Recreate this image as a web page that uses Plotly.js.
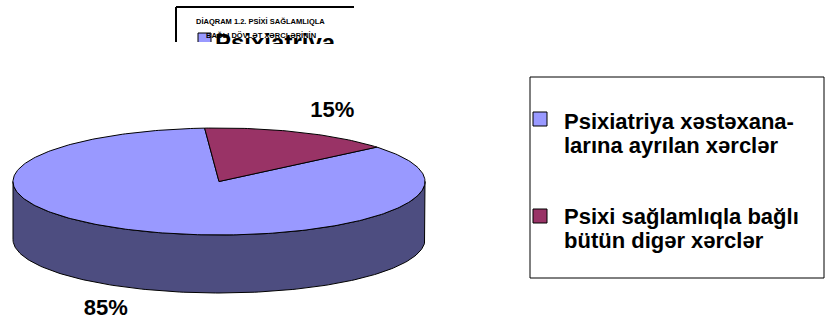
<!DOCTYPE html>
<html><head><meta charset="utf-8">
<script src="https://cdn.plot.ly/plotly-3.0.1.min.js"></script>
<style>html,body{margin:0;padding:0;background:#fff}#chart{width:825px;height:320px}</style>
</head><body><div id="chart"></div>
<script>
// ---- data ----
const categories = ['Psixiatriya xəstəxana-<br>larına ayrılan xərclər', 'Psixi sağlamlıqla bağlı<br>bütün digər xərclər'];
const values = [85, 15];
const topColors = ['#9999FF', '#993366'];
const sideColors = ['#4D4D80', '#4D1A33'];
const titleLines = ['DİAQRAM 1.2. PSİXİ SAĞLAMLIQLA', 'BAĞLI DÖVLƏT XƏRCLƏRİNİN'];
const overlapText = 'Psixiatriya';

// ---- geometry (pixel units on hidden axes) ----
const cx = 219, cy = 181.5, rx = 206, ry = 53.5, depth = 58, startDeg = 40;
const rad = d => d * Math.PI / 180;
const px = t => cx + rx * Math.cos(rad(t));
const py = (t, off) => cy - ry * Math.sin(rad(t)) + (off || 0);
const FONT = 'Liberation Sans, Arial, sans-serif';

const total = values.reduce((a, b) => a + b, 0);
const slices = [];
let cum = 0;
values.forEach((v, i) => {
  const a0 = startDeg - cum / total * 360;
  const a1 = a0 - v / total * 360;
  cum += v;
  slices.push({a0, a1, i, v});
});

const traces = [];
// side walls (front half only)
slices.forEach(s => {
  const lo = s.a1, hi = s.a0;
  for (let k = -3; k <= 3; k++) {
    const f0 = 180 + 360 * k, f1 = 360 + 360 * k;
    const st = Math.max(lo, f0), en = Math.min(hi, f1);
    if (en - st <= 0) continue;
    const xs = [], ys = [];
    const n = Math.max(2, Math.ceil(en - st));
    for (let j = 0; j <= n; j++) { const t = st + (en - st) * j / n; xs.push(px(t)); ys.push(py(t, 0)); }
    for (let j = n; j >= 0; j--) { const t = st + (en - st) * j / n; xs.push(px(t)); ys.push(py(t, depth)); }
    xs.push(xs[0]); ys.push(ys[0]);
    traces.push({type: 'scatter', mode: 'lines', x: xs, y: ys, fill: 'toself',
      fillcolor: sideColors[s.i], line: {color: '#000', width: 1}, hoverinfo: 'skip', showlegend: false});
  }
});
// top faces
slices.forEach(s => {
  const xs = [cx], ys = [cy];
  const n = Math.max(2, Math.ceil(s.a0 - s.a1));
  for (let j = 0; j <= n; j++) { const t = s.a0 - (s.a0 - s.a1) * j / n; xs.push(px(t)); ys.push(py(t, 0)); }
  xs.push(cx); ys.push(cy);
  traces.push({type: 'scatter', mode: 'lines', x: xs, y: ys, fill: 'toself',
    fillcolor: topColors[s.i], line: {color: '#000', width: 1}, hoverinfo: 'skip', showlegend: false});
});
// percentage labels
const lx = [], ly = [], lt = [];
slices.forEach(s => {
  const m = (s.a0 + s.a1) / 2;
  const sn = Math.sin(rad(m));
  lx.push(cx + 290 * Math.cos(rad(m)));
  ly.push(cy - 76 * sn + (sn < 0 ? depth : 0));
  lt.push(Math.round(s.v / total * 100) + '%');
});
traces.push({type: 'scatter', mode: 'text', x: lx, y: ly, text: lt, textposition: 'middle center',
  textfont: {family: FONT, size: 22, color: '#000', weight: 'bold'}, hoverinfo: 'skip', showlegend: false});

// ---- legend (drawn) ----
const shapes = [
  {type: 'rect', xref: 'x', yref: 'y', x0: 530, x1: 824, y0: 77, y1: 278, line: {color: '#000', width: 1}, fillcolor: 'rgba(0,0,0,0)'},
  // small title box fragment
  {type: 'line', xref: 'x', yref: 'y', x0: 176, x1: 354, y0: 7, y1: 7, line: {color: '#000', width: 2}},
  {type: 'line', xref: 'x', yref: 'y', x0: 176, x1: 176, y0: 7, y1: 42, line: {color: '#000', width: 2}},
  {type: 'rect', xref: 'x', yref: 'y', x0: 198, x1: 211, y0: 33, y1: 42, line: {width: 0}, fillcolor: topColors[0]},
  {type: 'path', xref: 'x', yref: 'y', path: 'M198,42 L198,33 L211,33 L211,42', line: {color: '#000', width: 1}}
];
const annotations = [];
const legTop = [112, 209];
const legBase = [128, 223];
categories.forEach((c, i) => {
  shapes.push({type: 'rect', xref: 'x', yref: 'y', x0: 533, x1: 547, y0: legTop[i], y1: legTop[i] + 14,
    line: {color: '#000', width: 1}, fillcolor: topColors[i]});
  c.split('<br>').forEach((ln, j) => {
    annotations.push({xref: 'x', yref: 'y', x: 562, y: legBase[i] + 24 * j - 7, xanchor: 'left', yanchor: 'middle',
      text: ln, showarrow: false, font: {family: FONT, size: 22, color: '#000', weight: 'bold'}});
  });
});
// title fragment
annotations.push({xref: 'x', yref: 'y', x: 260, y: 21, xanchor: 'center', yanchor: 'middle', text: titleLines[0],
  showarrow: false, font: {family: FONT, size: 7.5, color: '#000', weight: 'bold'}});
annotations.push({xref: 'x', yref: 'y', x: 261, y: 35, xanchor: 'center', yanchor: 'middle', text: titleLines[1],
  showarrow: false, font: {family: FONT, size: 7.5, color: '#000', weight: 'bold'}});
annotations.push({xref: 'x', yref: 'y', x: 213, y: 27, xanchor: 'left', yanchor: 'top', text: overlapText,
  showarrow: false, height: 15, valign: 'top', font: {family: FONT, size: 24, color: '#000', weight: 'bold'}});

const layout = {
  width: 825, height: 320, margin: {l: 0, r: 0, t: 0, b: 0},
  paper_bgcolor: '#fff', plot_bgcolor: '#fff', showlegend: false,
  xaxis: {range: [0, 825], visible: false, fixedrange: true},
  yaxis: {range: [320, 0], visible: false, fixedrange: true},
  shapes, annotations
};
Plotly.newPlot('chart', traces, layout, {staticPlot: true, displayModeBar: false});
</script>
</body></html>
